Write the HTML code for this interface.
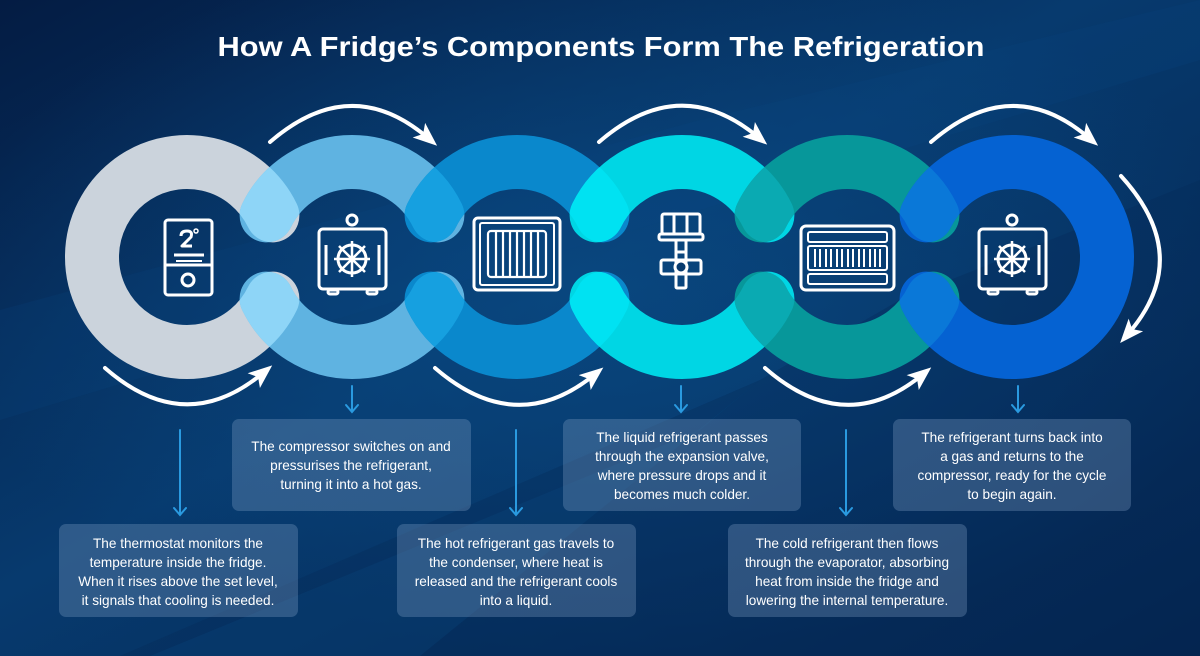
<!DOCTYPE html>
<html><head><meta charset="utf-8"><style>
html,body{margin:0;padding:0;background:#06305e;}
svg{display:block;}
.t{font-family:"Liberation Sans",sans-serif;font-size:13.6px;fill:#ffffff;text-anchor:middle;}
</style></head><body>
<svg width="1200" height="656" viewBox="0 0 1200 656" xmlns="http://www.w3.org/2000/svg">
<defs>
<linearGradient id="bg" x1="0" y1="0" x2="1" y2="1">
<stop offset="0" stop-color="#041c43"/><stop offset="0.45" stop-color="#073a6e"/><stop offset="1" stop-color="#04224c"/>
</linearGradient>
<radialGradient id="glow" cx="0.5" cy="0.45" r="0.55">
<stop offset="0" stop-color="#0a4c86" stop-opacity="0.7"/><stop offset="1" stop-color="#0a4c86" stop-opacity="0"/>
</radialGradient>
<marker id="ah" markerWidth="6" markerHeight="6" refX="3" refY="3" orient="auto" markerUnits="strokeWidth">
<path d="M0,0.6 L6,3 L0,5.4 L1.4,3 Z" fill="#fff"/>
</marker>
<marker id="dh" markerWidth="10" markerHeight="10" refX="5" refY="8" orient="auto-start-reverse" markerUnits="userSpaceOnUse"></marker>
<path id="r0" d="M272.4 215.4 A95 95 0 1 0 272.4 298.6"/>
<path id="r1" d="M266.6 215.4 A95 95 0 0 1 437.4 215.4 M266.6 298.6 A95 95 0 0 0 437.4 298.6"/>
<path id="r2" d="M431.6 215.4 A95 95 0 0 1 602.4 215.4 M431.6 298.6 A95 95 0 0 0 602.4 298.6"/>
<path id="r3" d="M596.6 215.4 A95 95 0 0 1 767.4 215.4 M596.6 298.6 A95 95 0 0 0 767.4 298.6"/>
<path id="r4" d="M761.6 215.4 A95 95 0 0 1 932.4 215.4 M761.6 298.6 A95 95 0 0 0 932.4 298.6"/>
<path id="r5" d="M926.6 215.4 A95 95 0 1 1 926.6 298.6"/>
<mask id="m0" maskUnits="userSpaceOnUse" x="0" y="0" width="1200" height="656"><use href="#r0" fill="none" stroke="#fff" stroke-width="54" stroke-linecap="round"/></mask>
<mask id="m1" maskUnits="userSpaceOnUse" x="0" y="0" width="1200" height="656"><use href="#r1" fill="none" stroke="#fff" stroke-width="54" stroke-linecap="round"/></mask>
<mask id="m2" maskUnits="userSpaceOnUse" x="0" y="0" width="1200" height="656"><use href="#r2" fill="none" stroke="#fff" stroke-width="54" stroke-linecap="round"/></mask>
<mask id="m3" maskUnits="userSpaceOnUse" x="0" y="0" width="1200" height="656"><use href="#r3" fill="none" stroke="#fff" stroke-width="54" stroke-linecap="round"/></mask>
<mask id="m4" maskUnits="userSpaceOnUse" x="0" y="0" width="1200" height="656"><use href="#r4" fill="none" stroke="#fff" stroke-width="54" stroke-linecap="round"/></mask>
</defs>
<rect width="1200" height="656" fill="url(#bg)"/>
<rect width="1200" height="656" fill="url(#glow)"/>
<polygon points="0,310 700,120 1200,0 1200,60 0,420" fill="#0c4a86" opacity="0.18"/>
<polygon points="120,656 760,380 900,300 1200,180 1200,656" fill="#062a58" opacity="0.35"/>
<polygon points="150,656 700,430 760,380 420,656" fill="#0a4a84" opacity="0.25"/>

<!-- title -->
<text x="601" y="56" textLength="767" lengthAdjust="spacingAndGlyphs" font-family="Liberation Sans, sans-serif" font-weight="bold" font-size="28" fill="#fff" text-anchor="middle">How A Fridge’s Components Form The Refrigeration</text>

<!-- rings -->
<g fill="none" stroke-width="54" stroke-linecap="round">
<use href="#r0" stroke="#cbd3dc"/>
<use href="#r1" stroke="#5fb3e1"/>
<use href="#r1" stroke="#8ed5f7" mask="url(#m0)"/>
<use href="#r2" stroke="#0a88cc"/>
<use href="#r2" stroke="#16a0e0" mask="url(#m1)"/>
<use href="#r3" stroke="#00d6e4"/>
<use href="#r3" stroke="#00e2f2" mask="url(#m2)"/>
<use href="#r4" stroke="#07979a"/>
<use href="#r4" stroke="#0aaab2" mask="url(#m3)"/>
<use href="#r5" stroke="#0562d2"/>
<use href="#r5" stroke="#0a78d8" mask="url(#m4)"/>
</g>

<!-- curved arrows -->
<g fill="none" stroke="#fff" stroke-width="4" stroke-linecap="round" marker-end="url(#ah)">
<path d="M270 142 Q351 72 428 138"/>
<path d="M599 142 Q680 72 758 137"/>
<path d="M931 142 Q1012 72 1089 138"/>
<path d="M105 368 Q185 438 263 373"/>
<path d="M435 368 Q516 438 594 375"/>
<path d="M765 368 Q845 438 922 375"/>
<path d="M1121 176 Q1195 257 1128 334"/>
</g>

<!-- icons -->
<g fill="none" stroke="#fff" stroke-width="3" stroke-linejoin="round">
<!-- thermostat -->
<rect x="165" y="220" width="47" height="75" rx="3"/>
<line x1="165" y1="265" x2="212" y2="265"/>
<line x1="174" y1="255" x2="204" y2="255"/>
<line x1="176" y1="261" x2="202" y2="261" stroke-width="2"/>
<circle cx="188" cy="280" r="6"/>
<path d="M181 236 q0-5 6-5 q6 0 4 6 l-9 9 h10"/>
<circle cx="196" cy="231" r="2" stroke-width="1.5"/>
<!-- safe 1 -->
<rect x="319" y="229" width="67" height="60" rx="4"/>
<circle cx="352" cy="220" r="5"/>
<path d="M326 245 v30 M379 245 v30"/>
<rect x="328" y="290" width="10" height="4" rx="2"/><rect x="367" y="290" width="10" height="4" rx="2"/>
<circle cx="352" cy="259" r="14"/>
<path d="M352 241 v36 M334 259 h36 M339 246 l26 26 M365 246 l-26 26" stroke-width="2.5"/>
<!-- radiator -->
<rect x="474" y="218" width="86" height="72" rx="4"/>
<rect x="480" y="223" width="74" height="62" rx="2" stroke-width="2"/>
<g stroke-width="2.2">
<rect x="488" y="231" width="58" height="46" rx="3"/>
<path d="M496 231 v46 M503 231 v46 M510 231 v46 M517 231 v46 M524 231 v46 M531 231 v46 M538 231 v46"/>
</g>
<!-- valve -->
<rect x="662" y="214" width="38" height="20" rx="2"/>
<path d="M674 214 v20 M687 214 v20"/>
<rect x="659" y="234" width="44" height="6" rx="2"/>
<path d="M676 240 v12 h10 v-12"/>
<rect x="676" y="252" width="10" height="36" rx="1"/>
<rect x="661" y="260" width="40" height="14" rx="2"/>
<circle cx="681" cy="267" r="6" fill="#073a6e"/>
<!-- evaporator -->
<rect x="801" y="226" width="93" height="64" rx="5"/>
<g stroke-width="2">
<rect x="808" y="232" width="79" height="10" rx="2"/>
<rect x="808" y="274" width="79" height="10" rx="2"/>
<rect x="808" y="246" width="79" height="24" rx="2"/>
<path d="M815 249 v18 M820 249 v18 M826 249 v18 M831 249 v18 M837 249 v18 M842 249 v18 M848 249 v18 M853 249 v18 M859 249 v18 M864 249 v18 M870 249 v18 M875 249 v18 M880 249 v18"/>
</g>
<!-- safe 2 -->
<rect x="979" y="229" width="67" height="60" rx="4"/>
<circle cx="1012" cy="220" r="5"/>
<path d="M986 245 v30 M1039 245 v30"/>
<rect x="988" y="290" width="10" height="4" rx="2"/><rect x="1027" y="290" width="10" height="4" rx="2"/>
<circle cx="1012" cy="259" r="14"/>
<path d="M1012 241 v36 M994 259 h36 M999 246 l26 26 M1025 246 l-26 26" stroke-width="2.5"/>
</g>

<!-- down arrows -->
<g stroke="#2a9ae0" stroke-width="2" fill="none" stroke-linecap="round">
<path d="M352 386 v26 M346 405 l6 7 l6 -7"/>
<path d="M681 386 v26 M675 405 l6 7 l6 -7"/>
<path d="M1018 386 v26 M1012 405 l6 7 l6 -7"/>
<path d="M180 430 v85 M174 508 l6 7 l6 -7"/>
<path d="M516 430 v85 M510 508 l6 7 l6 -7"/>
<path d="M846 430 v85 M840 508 l6 7 l6 -7"/>
</g>

<!-- boxes -->
<g fill="#8aa8cc" fill-opacity="0.3">
<rect x="232" y="419" width="239" height="92" rx="7"/>
<rect x="563" y="419" width="238" height="92" rx="7"/>
<rect x="893" y="419" width="238" height="92" rx="7"/>
<rect x="59" y="524" width="239" height="93" rx="7"/>
<rect x="397" y="524" width="239" height="93" rx="7"/>
<rect x="728" y="524" width="239" height="93" rx="7"/>
</g>
<g class="t">
<text class="t" x="351" y="451">The compressor switches on and</text>
<text class="t" x="351" y="470">pressurises the refrigerant,</text>
<text class="t" x="351" y="489">turning it into a hot gas.</text>

<text class="t" x="682" y="442">The liquid refrigerant passes</text>
<text class="t" x="682" y="461">through the expansion valve,</text>
<text class="t" x="682" y="480">where pressure drops and it</text>
<text class="t" x="682" y="499">becomes much colder.</text>

<text class="t" x="1012" y="442">The refrigerant turns back into</text>
<text class="t" x="1012" y="461">a gas and returns to the</text>
<text class="t" x="1012" y="480">compressor, ready for the cycle</text>
<text class="t" x="1012" y="499">to begin again.</text>

<text class="t" x="178" y="548">The thermostat monitors the</text>
<text class="t" x="178" y="567">temperature inside the fridge.</text>
<text class="t" x="178" y="586">When it rises above the set level,</text>
<text class="t" x="178" y="605">it signals that cooling is needed.</text>

<text class="t" x="516" y="548">The hot refrigerant gas travels to</text>
<text class="t" x="516" y="567">the condenser, where heat is</text>
<text class="t" x="516" y="586">released and the refrigerant cools</text>
<text class="t" x="516" y="605">into a liquid.</text>

<text class="t" x="847" y="548">The cold refrigerant then flows</text>
<text class="t" x="847" y="567">through the evaporator, absorbing</text>
<text class="t" x="847" y="586">heat from inside the fridge and</text>
<text class="t" x="847" y="605">lowering the internal temperature.</text>
</g>
</svg>
</body></html>
